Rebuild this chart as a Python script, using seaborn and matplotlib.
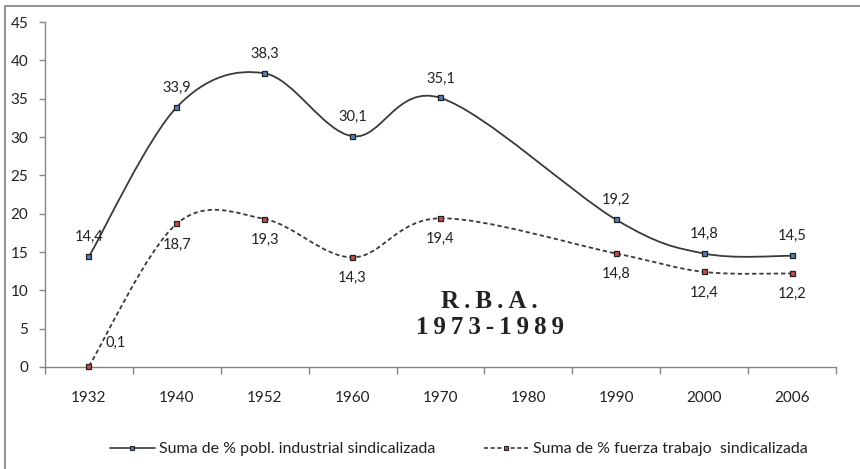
import matplotlib

matplotlib.use("Agg")

import matplotlib.pyplot as plt
import numpy as np
import pandas as pd
import seaborn as sns
from matplotlib.lines import Line2D
from matplotlib.patches import PathPatch, Rectangle
from matplotlib.path import Path

years = ["1932", "1940", "1952", "1960", "1970", "1980", "1990", "2000", "2006"]
industrial = [14.4, 33.9, 38.3, 30.1, 35.1, None, 19.2, 14.8, 14.5]
fuerza = [0.1, 18.7, 19.3, 14.3, 19.4, None, 14.8, 12.4, 12.2]
series_names = ["Suma de % pobl. industrial sindicalizada", "Suma de % fuerza trabajo  sindicalizada"]
y_ticks = [0, 5, 10, 15, 20, 25, 30, 35, 40, 45]


def smooth_path(xs, ys):
    # Excel-like smoothed line: Catmull-Rom segments as cubic Bezier curves
    pts = np.column_stack([xs, ys]).astype(float)
    n = len(pts)
    verts = [pts[0]]
    codes = [Path.MOVETO]
    for i in range(n - 1):
        p0 = pts[max(i - 1, 0)]
        p1 = pts[i]
        p2 = pts[i + 1]
        p3 = pts[min(i + 2, n - 1)]
        verts += [p1 + (p2 - p0) / 6, p2 - (p3 - p1) / 6, p2]
        codes += [Path.CURVE4] * 3
    return Path(verts, codes)


rows = []
for name, values in zip(series_names, [industrial, fuerza]):
    for i, (year, v) in enumerate(zip(years, values)):
        if v is not None:
            rows.append({"pos": i, "year": year, "value": v, "serie": name})
df = pd.DataFrame(rows)

sns.set_theme(style="white")
plt.rcParams["font.family"] = ["Lato", "DejaVu Sans"]

fig = plt.figure(figsize=(8.6, 4.69), dpi=100)
ax = fig.add_axes([45 / 860, 1 - 367 / 469, 791 / 860, 345 / 469])

line_styles = {series_names[0]: "-", series_names[1]: (0, (2.4, 1.6))}
marker_fill = {series_names[0]: "#4f81bd", series_names[1]: "#c0504d"}
line_color = "#3a3a3a"
text_color = "#222222"

for name in series_names:
    sub = df[df["serie"] == name]
    patch = PathPatch(smooth_path(sub["pos"], sub["value"]), fill=False, edgecolor=line_color,
                      linewidth=1.3, linestyle=line_styles[name], zorder=2, clip_on=False)
    ax.add_patch(patch)

sns.scatterplot(data=df, x="pos", y="value", hue="serie", palette=marker_fill, marker="s", s=13,
                edgecolor="#222222", linewidth=0.9, legend=False, ax=ax, zorder=3, clip_on=False)

# data labels: first series above, second below (0,1 off to the right)
for _, r in df.iterrows():
    label = f"{r['value']:.1f}".replace(".", ",")
    if r["serie"] == series_names[0]:
        offset = (0, 14)
    elif r["value"] < 1:
        offset = (19, 17)
    else:
        offset = (0, -15)
    ax.annotate(label, (r["pos"], r["value"]), xytext=offset, textcoords="offset points",
                ha="center", va="center", fontsize=10.5, color=text_color)

serif = ["Liberation Serif", "DejaVu Serif"]
ax.text(4.56, 8.5, "\u2009".join("R.B.A."), ha="center", va="center", fontsize=18,
        fontweight="bold", color=text_color, family=serif)
ax.text(4.56, 5.1, "\u2009".join("1973-1989"), ha="center", va="center", fontsize=18,
        fontweight="bold", color=text_color, family=serif)

ax.set_xlim(-0.5, len(years) - 0.5)
ax.set_ylim(0, 45)
ax.set_xticks(range(len(years)))
ax.set_xticklabels(years)
ax.set_xticks(np.arange(-0.5, len(years), 1.0), minor=True)
ax.set_yticks(y_ticks)
ax.set_xlabel("")
ax.set_ylabel("")

spine_color = "#868686"
for side in ["top", "right"]:
    ax.spines[side].set_visible(False)
for side in ["left", "bottom"]:
    ax.spines[side].set_color(spine_color)
    ax.spines[side].set_linewidth(1.0)
ax.tick_params(axis="y", which="major", direction="out", length=4, width=1, color=spine_color,
               pad=8, labelsize=11, labelcolor=text_color, left=True)
ax.tick_params(axis="x", which="major", length=0, pad=17, labelsize=11, labelcolor=text_color)
ax.tick_params(axis="x", which="minor", direction="out", length=5, width=1, color=spine_color, bottom=True)

handles = [
    Line2D([], [], color=line_color, linewidth=1.2, linestyle=line_styles[n], marker="s", markersize=3.5,
           markerfacecolor=marker_fill[n], markeredgecolor="#222222", markeredgewidth=0.8)
    for n in series_names
]
fig.legend(handles, series_names, loc="center", bbox_to_anchor=(459 / 860, 1 - 449 / 469), ncol=2,
           frameon=False, fontsize=11.5, handlelength=2.8, handletextpad=0.3, columnspacing=3.0,
           labelcolor=text_color)

fig.add_artist(Rectangle((5 / 860, -0.05), 1.2, 1.05 - 6 / 469, transform=fig.transFigure, fill=False,
                         edgecolor="#7f7f7f", linewidth=1.2, clip_on=False))

fig.savefig("out.png", dpi=100)
